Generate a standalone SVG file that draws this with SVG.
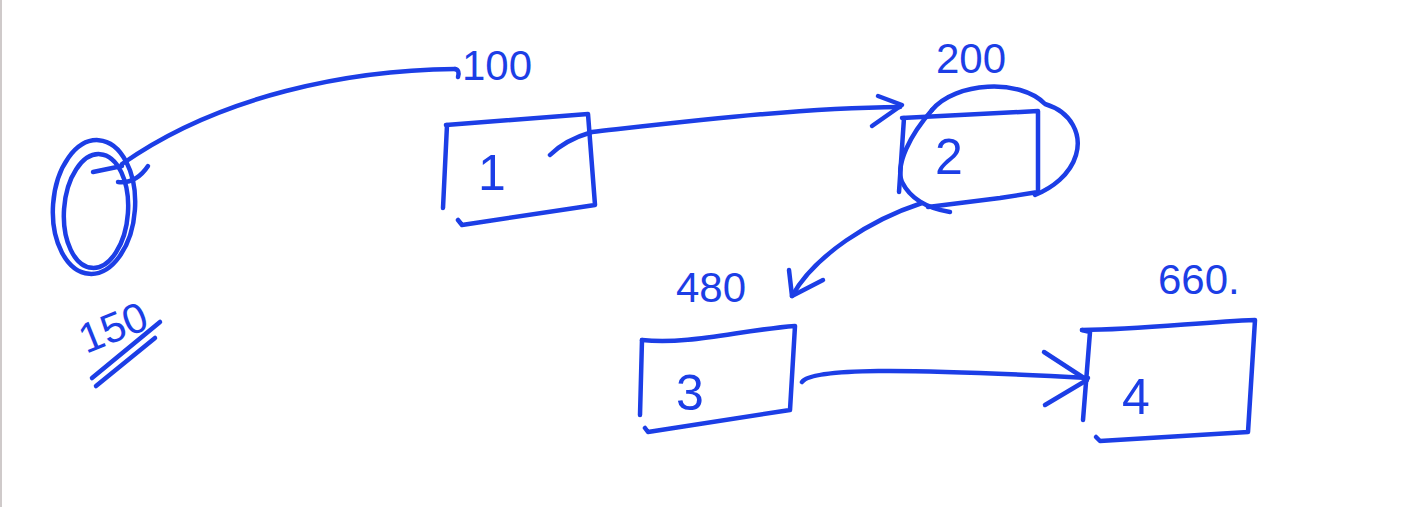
<svg xmlns="http://www.w3.org/2000/svg" width="1408" height="507" viewBox="0 0 1408 507">
  <style>
    .ink { fill: none; stroke: #1c3ee6; stroke-width: 4.5; stroke-linecap: round; stroke-linejoin: round; }
    .num { fill: #1c3ee6; font-family: "Liberation Sans", "DejaVu Sans", sans-serif; font-size: 42px; }
    .lbl { fill: #1c3ee6; font-family: "Liberation Sans", "DejaVu Sans", sans-serif; font-size: 50px; }
  </style>
  <rect x="0" y="0" width="1408" height="507" fill="#ffffff"/>
  <rect x="0" y="0" width="2" height="507" fill="#cfcaca"/>

  <!-- start pointer: double loop with its value -->
  <g id="head">
    <ellipse class="ink" cx="94" cy="207" rx="41" ry="67" transform="rotate(4 94 207)"/>
    <ellipse class="ink" cx="96" cy="211" rx="32" ry="57" transform="rotate(4 96 211)"/>
    <path class="ink" d="M 93 172 L 122 166"/>
    <path class="ink" d="M 118 182 Q 136 184 148 166"/>
    <text class="num" font-size="46" transform="translate(86 354) rotate(-22)">150</text>
    <path class="ink" d="M 92 378 L 160 322"/>
    <path class="ink" d="M 96 386 L 155 338"/>
  </g>

  <!-- node 1 -->
  <g id="node1">
    <text class="num" x="462" y="80">100</text>
    <path class="ink" d="M 446 125 L 588 114 L 595 205 L 462 225 L 458 220"/>
    <path class="ink" d="M 447 125 L 443 208"/>
    <text class="lbl" x="478" y="190">1</text>
  </g>

  <!-- node 2 -->
  <g id="node2">
    <text class="num" x="936" y="73">200</text>
    <path class="ink" d="M 902 118 L 1038 111 L 1038 192 L 1000 198 L 928 207"/>
    <path class="ink" d="M 904 118 L 899 192"/>
    <path class="ink" d="M 932 110 C 955 82 1020 78 1045 104 C 1072 112 1082 135 1076 155 C 1070 175 1052 188 1035 195"/>
    <path class="ink" d="M 932 110 C 910 135 895 165 902 182 C 910 198 925 208 950 212"/>
    <text class="lbl" x="935" y="174">2</text>
  </g>

  <!-- node 3 -->
  <g id="node3">
    <text class="num" x="676" y="302">480</text>
    <path class="ink" d="M 642 340 C 690 345 740 330 795 326 L 790 410 L 648 432 L 645 428"/>
    <path class="ink" d="M 642 340 L 640 415"/>
    <text class="lbl" x="676" y="410">3</text>
  </g>

  <!-- node 4 -->
  <g id="node4">
    <text class="num" x="1158" y="294">660.</text>
    <path class="ink" d="M 1082 330 C 1140 330 1200 322 1255 320 L 1248 432 L 1100 441 L 1096 437"/>
    <path class="ink" d="M 1082 330 L 1090 332 L 1083 420"/>
    <text class="lbl" x="1122" y="414">4</text>
  </g>

  <!-- links between nodes -->
  <g id="connectors">
    <path class="ink" d="M 455 69 C 350 70 220 95 122 164"/>
    <path class="ink" d="M 455 69 Q 460 70 458 77"/>
    <path class="ink" d="M 550 155 C 560 145 575 137 592 132 C 700 120 800 108 900 107"/>
    <path class="ink" d="M 878 96 L 902 105 L 872 126"/>
    <path class="ink" d="M 922 203 C 870 220 815 255 792 296"/>
    <path class="ink" d="M 789 270 L 792 296 L 823 280"/>
    <path class="ink" d="M 802 382 C 812 368 900 368 1088 378"/>
    <path class="ink" d="M 1044 352 L 1087 380 L 1045 405"/>
  </g>
</svg>
